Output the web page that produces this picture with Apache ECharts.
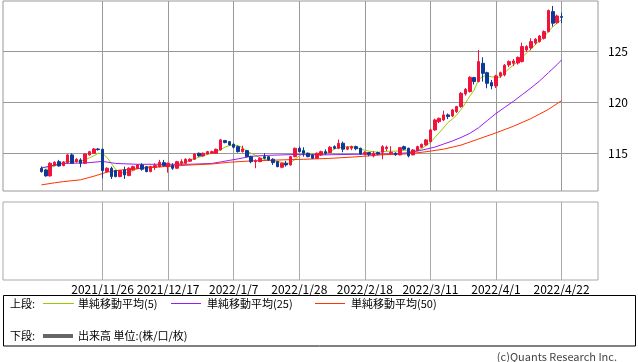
<!DOCTYPE html>
<html><head><meta charset="utf-8">
<script src="https://cdn.jsdelivr.net/npm/echarts@6/dist/echarts.min.js"></script>
<style>html,body{margin:0;padding:0;background:#fff}#c{width:638px;height:362px}</style>
</head><body><div id="c"></div>
<script>
// trading-day index 0 = 2021/11/8 ... 119 = 2022/4/22
const tickIndex = [14, 29, 44, 59, 74, 89, 104, 119];
const tickLabels = ['2021/11/26','2021/12/17','2022/1/7','2022/1/28','2022/2/18','2022/3/11','2022/4/1','2022/4/22'];
const priceTicks = [115, 120, 125];
const seriesNames = ['単純移動平均(5)', '単純移動平均(25)', '単純移動平均(50)'];
const upperLabel = '上段:';
const lowerLabel = '下段:';
const volumeLabel = '出来高 単位:(株/口/枚)';
const copyright = '(c)Quants Research Inc.';

// [open, close, low, high]
const ohlc = [
[113.53,113.20,113.10,113.69],[113.37,112.78,112.71,113.43],[112.78,114.02,112.71,114.12],[113.79,114.12,113.73,114.22],[114.18,113.76,113.69,114.35],
[113.79,114.15,113.73,114.22],[114.08,114.84,114.02,114.90],[114.84,114.02,113.95,115.00],[114.18,114.41,114.08,114.51],[114.35,114.02,113.63,114.51],
[114.02,114.93,113.95,115.00],[114.84,115.16,114.77,115.23],[115.00,115.42,114.93,115.52],[115.42,115.36,115.26,115.52],[115.39,113.30,112.55,115.46],
[113.20,113.53,113.10,113.63],[113.53,112.71,112.48,113.69],[113.30,112.71,112.65,113.37],[112.71,113.30,112.65,113.37],[113.37,112.88,112.48,113.69],
[112.81,113.53,112.75,113.63],[113.37,113.69,113.30,113.79],[113.53,113.86,113.43,113.95],[113.86,113.43,113.30,114.02],[113.69,113.20,113.14,113.76],
[113.20,113.69,113.14,113.79],[113.63,113.79,113.37,114.02],[113.69,114.12,113.63,114.35],[114.08,113.79,113.69,114.35],[113.69,114.02,113.10,114.08],
[113.79,113.53,113.37,114.02],[113.53,114.18,113.46,114.25],[114.02,114.18,113.86,114.41],[114.02,114.41,113.95,114.51],[114.22,114.41,114.15,114.51],
[114.41,114.93,114.35,115.00],[115.00,114.74,114.67,115.07],[114.74,115.00,114.67,115.07],[114.93,115.16,114.87,115.23],[115.00,115.16,114.93,115.26],
[115.00,115.39,114.93,115.46],[115.33,116.31,115.26,116.41],[116.24,116.05,115.98,116.31],[116.14,115.82,115.75,116.21],[115.88,115.59,115.49,115.98],
[115.65,115.16,115.07,115.75],[115.16,115.42,115.07,115.75],[115.26,114.67,114.61,115.33],[114.67,114.18,114.02,114.77],[114.18,114.28,113.53,114.41],
[114.18,114.51,114.12,114.61],[114.67,114.51,114.41,115.00],[114.67,114.35,114.28,114.74],[114.41,114.08,113.86,114.51],[114.18,113.69,113.63,114.25],
[113.63,114.02,113.53,114.08],[114.02,113.86,113.69,114.25],[113.86,114.67,113.79,114.74],[114.67,115.49,114.61,115.55],[115.49,115.16,115.10,115.65],
[115.26,115.00,114.67,115.59],[115.00,114.67,114.61,115.07],[114.84,114.51,114.44,114.90],[114.51,115.00,114.44,115.07],[114.84,115.16,114.74,115.26],
[115.16,115.00,114.84,115.39],[115.07,115.59,115.00,115.70],[115.65,115.49,115.40,115.78],[115.49,115.98,115.40,116.35],[115.98,115.40,115.10,116.15],
[115.40,115.59,115.30,115.70],[115.50,115.65,115.30,115.75],[115.65,115.45,115.30,115.75],[115.49,114.93,114.85,115.55],[114.93,115.07,114.80,115.20],
[115.07,114.90,114.70,115.10],[114.74,115.00,114.60,115.20],[115.07,114.93,114.85,115.15],[115.10,115.65,114.41,115.80],[115.45,115.60,115.20,115.75],
[115.00,115.10,114.85,115.70],[115.00,114.85,114.75,115.10],[114.84,115.55,114.80,115.60],[115.65,115.40,115.30,115.75],[115.49,114.74,114.60,115.55],
[114.84,115.33,114.80,115.40],[115.26,115.65,115.20,115.75],[115.59,115.88,115.50,115.95],[115.82,116.31,115.75,116.40],[116.14,117.29,116.05,117.40],
[117.29,118.27,117.20,118.40],[118.10,118.43,117.95,118.50],[118.27,118.76,118.15,119.18],[118.76,118.60,118.35,118.90],[118.66,119.25,118.55,119.35],
[119.08,119.58,118.95,119.65],[119.58,120.88,119.45,121.00],[120.82,121.27,120.65,121.40],[121.05,122.45,120.95,122.55],[122.42,122.03,121.75,122.50],
[122.03,123.99,121.95,125.13],[123.82,122.84,122.03,124.41],[122.90,121.86,121.37,123.00],[121.93,121.60,121.27,122.19],[121.60,122.58,121.40,122.70],
[122.58,122.90,122.40,123.00],[122.68,123.63,122.55,123.75],[123.66,123.99,123.45,124.10],[123.82,124.05,123.55,124.25],[123.85,124.40,123.70,124.50],
[123.99,125.46,123.90,125.85],[125.13,125.46,124.95,125.60],[125.33,125.95,125.10,126.27],[125.82,126.18,125.65,126.30],[125.95,126.50,125.85,126.60],
[126.27,126.93,126.15,127.05],[126.93,128.99,126.85,129.10],[128.89,127.75,127.42,129.44],[127.80,128.46,127.70,128.60],[128.40,128.33,127.75,128.79]
];

const ma5 = [
113.69,113.55,113.60,113.75,113.95,114.10,114.20,114.20,114.20,114.25,
114.35,114.55,114.75,115.00,114.95,114.60,114.00,113.40,113.15,113.05,
113.15,113.30,113.50,113.55,113.65,113.70,113.70,113.80,113.75,113.75,
113.80,113.90,114.00,114.10,114.35,114.45,114.60,114.75,114.90,115.00,
115.15,115.35,115.60,115.75,115.80,115.75,115.55,115.20,115.00,114.80,
114.55,114.40,114.30,114.25,114.20,114.10,114.00,114.05,114.40,114.75,
115.00,115.00,114.95,114.85,114.85,114.95,115.15,115.40,115.55,115.60,
115.65,115.65,115.60,115.40,115.30,115.20,115.15,115.10,115.15,115.20,
115.20,115.20,115.25,115.30,115.20,115.15,115.30,115.45,115.75,116.05,
116.55,117.00,117.50,118.00,118.35,118.75,119.30,119.90,120.60,121.20,
122.20,122.55,122.60,122.50,122.45,122.45,122.90,123.30,123.65,124.00,
124.40,124.85,125.20,125.65,126.00,126.40,126.95,127.40,127.75,128.10
];

// [day index, value]
const ma25 = [
[0,113.55],[2,113.75],[5,114.00],[10,114.05],[14,114.20],[17,114.00],[22,113.92],[34,113.92],
[39,114.00],[41,114.15],[43,114.30],[45,114.45],[48,114.70],[52,114.80],[58,114.88],[64,114.84],
[72,114.90],[80,114.93],[84,115.05],[87,115.30],[90,115.60],[92,115.90],[94,116.20],[96,116.55],
[98,116.95],[100,117.50],[102,118.20],[104,118.90],[106,119.50],[108,120.10],[110,120.75],
[112,121.40],[114,122.10],[116,122.90],[118,123.70],[119,124.15]
];
const ma50 = [
[0,111.90],[3,112.10],[5,112.22],[9,112.40],[12,112.75],[15,113.15],[18,113.35],[23,113.53],
[28,113.69],[34,113.85],[39,113.95],[43,114.12],[48,114.25],[55,114.35],[60,114.41],[66,114.50],
[72,114.65],[78,114.85],[84,114.95],[88,115.15],[92,115.40],[96,115.80],[100,116.40],[104,117.00],
[108,117.65],[112,118.40],[116,119.30],[119,120.16]
];

const FONT = '"Noto Sans CJK JP","Noto Sans",sans-serif';
const UP = '#f0143c', DOWN = '#0c3a98';
const C5 = '#99cc00', C25 = '#9a1cf5', C50 = '#ff3300';
const XMIN = -8.785, XMAX = 127.34;

const chart = echarts.init(document.getElementById('c'), null, {renderer: 'canvas'});
const option = {
  animation: false,
  backgroundColor: '#fff',
  grid: [
    {left: 3, top: 1, width: 595, height: 190, show: true, borderColor: '#999', borderWidth: 1, backgroundColor: '#fff', outerBoundsMode: 'none'},
    {left: 3, top: 202, width: 595, height: 78, show: true, borderColor: '#aaa', borderWidth: 1, backgroundColor: '#fff', outerBoundsMode: 'none'}
  ],
  xAxis: [
    {type: 'value', gridIndex: 0, min: XMIN, max: XMAX,
     axisLine: {show: false},
     axisTick: {show: true, inside: true, length: 190, customValues: tickIndex, lineStyle: {color: '#999', width: 1}},
     axisLabel: {show: false}, splitLine: {show: false}},
    {type: 'value', gridIndex: 1, min: XMIN, max: XMAX,
     axisLine: {show: false},
     axisTick: {show: true, inside: true, length: 78, customValues: tickIndex, lineStyle: {color: '#aaa', width: 1}},
     axisLabel: {show: true, customValues: tickIndex, margin: 3, fontSize: 12, color: '#000', fontFamily: FONT,
       formatter: v => { const k = tickIndex.indexOf(Math.round(v)); return k >= 0 ? tickLabels[k] : ''; }},
     splitLine: {show: false}}
  ],
  yAxis: [
    {type: 'value', gridIndex: 0, position: 'right', min: 111.3, max: 129.93, splitNumber: 4, minInterval: 5, maxInterval: 5,
     axisLine: {show: false},
     axisTick: {show: true, length: 5, customValues: priceTicks, lineStyle: {color: '#999'}},
     axisLabel: {show: true, customValues: priceTicks, margin: 10, fontSize: 12, color: '#000', fontFamily: FONT,
       formatter: v => (Math.abs(v % 5) < 1e-6 ? String(v) : '')},
     splitLine: {show: true, lineStyle: {color: '#999', width: 1}}},
    {type: 'value', gridIndex: 1, position: 'right', min: 0, max: 1,
     axisLine: {show: false}, axisTick: {show: false}, axisLabel: {show: false}, splitLine: {show: false}}
  ],
  series: [
    {name: seriesNames[0], type: 'line', xAxisIndex: 0, yAxisIndex: 0, data: ma5.map((v, i) => [i, v]),
     showSymbol: false, symbol: 'none', z: 2, lineStyle: {color: C5, width: 1}},
    {name: seriesNames[1], type: 'line', xAxisIndex: 0, yAxisIndex: 0, data: ma25,
     showSymbol: false, symbol: 'none', z: 2, lineStyle: {color: C25, width: 1}},
    {name: seriesNames[2], type: 'line', xAxisIndex: 0, yAxisIndex: 0, data: ma50,
     showSymbol: false, symbol: 'none', z: 2, lineStyle: {color: C50, width: 1}},
    {type: 'candlestick', xAxisIndex: 0, yAxisIndex: 0, z: 3, barWidth: 3,
     data: ohlc.map((d, i) => [i, d[0], d[1], d[2], d[3]]),
     itemStyle: {color: UP, color0: DOWN, borderColor: UP, borderColor0: DOWN, borderColorDoji: DOWN, borderWidth: 1}}
  ],
  graphic: [
    {type: 'rect', silent: true, shape: {x: 3.5, y: 295.5, width: 632, height: 50.5}, style: {fill: 'none', stroke: '#000', lineWidth: 1}},
    {type: 'text', silent: true, style: {x: 10, y: 303.5, text: upperLabel, font: '11px ' + FONT, fill: '#000', verticalAlign: 'middle'}},
    {type: 'line', silent: true, shape: {x1: 43, y1: 303.5, x2: 74, y2: 303.5}, style: {stroke: C5, lineWidth: 1}},
    {type: 'text', silent: true, style: {x: 78, y: 303.5, text: seriesNames[0], font: '11px ' + FONT, fill: '#000', verticalAlign: 'middle'}},
    {type: 'line', silent: true, shape: {x1: 171, y1: 303.5, x2: 201, y2: 303.5}, style: {stroke: C25, lineWidth: 1}},
    {type: 'text', silent: true, style: {x: 207, y: 303.5, text: seriesNames[1], font: '11px ' + FONT, fill: '#000', verticalAlign: 'middle'}},
    {type: 'line', silent: true, shape: {x1: 315, y1: 303.5, x2: 345, y2: 303.5}, style: {stroke: C50, lineWidth: 1}},
    {type: 'text', silent: true, style: {x: 351, y: 303.5, text: seriesNames[2], font: '11px ' + FONT, fill: '#000', verticalAlign: 'middle'}},
    {type: 'text', silent: true, style: {x: 10, y: 336, text: lowerLabel, font: '11px ' + FONT, fill: '#000', verticalAlign: 'middle'}},
    {type: 'line', silent: true, shape: {x1: 43, y1: 336, x2: 73, y2: 336}, style: {stroke: '#666', lineWidth: 4}},
    {type: 'text', silent: true, style: {x: 78, y: 336, text: volumeLabel, font: '11px ' + FONT, fill: '#000', verticalAlign: 'middle'}},
    {type: 'text', silent: true, style: {x: 617, y: 357, text: copyright, font: '11px ' + FONT, fill: '#444', align: 'right', verticalAlign: 'middle'}}
  ]
};
chart.setOption(option);
</script>
</body></html>
